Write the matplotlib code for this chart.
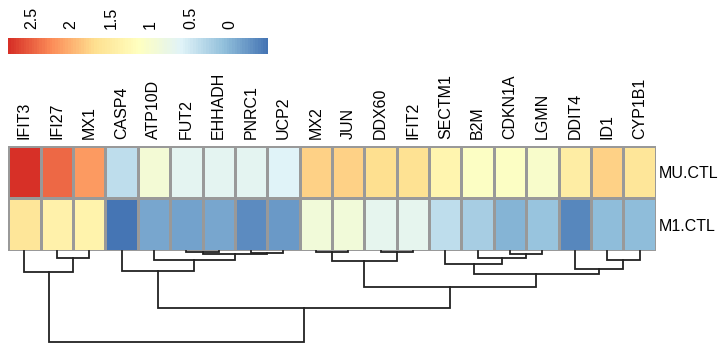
import numpy as np
import matplotlib
matplotlib.use("Agg")
import matplotlib.pyplot as plt
from matplotlib.colors import LinearSegmentedColormap, Normalize
from matplotlib.cm import ScalarMappable

plt.rcParams['font.family'] = ['Liberation Sans', 'DejaVu Sans']

# genes (columns) in dendrogram order, samples (rows)
genes = ["IFIT3", "IFI27", "MX1", "CASP4", "ATP10D", "FUT2", "EHHADH", "PNRC1",
         "UCP2", "MX2", "JUN", "DDX60", "IFIT2", "SECTM1", "B2M", "CDKN1A",
         "LGMN", "DDIT4", "ID1", "CYP1B1"]
samples = ["MU.CTL", "M1.CTL"]

mu_ctl = [2.79, 2.45, 2.15, 0.40, 0.95, 0.68, 0.68, 0.67, 0.62, 1.80,
          1.80, 1.70, 1.65, 1.35, 1.10, 1.12, 1.05, 1.45, 1.80, 1.60]
m1_ctl = [1.60, 1.40, 1.38, -0.48, -0.10, -0.15, -0.10, -0.30, -0.20, 0.90,
          0.90, 0.70, 0.70, 0.40, 0.22, -0.02, 0.12, -0.33, 0.07, 0.07]

# column clustering: (left, right, height); ids >= 20 are earlier merges
merges = [(1, 2, 7.3), (0, 20, 20.7),
          (5, 6, 1.0), (7, 8, 1.5), (22, 23, 3.3), (4, 24, 8.5), (3, 25, 19.5),
          (9, 10, 1.3), (11, 12, 1.3), (27, 28, 9.7),
          (15, 16, 3.3), (14, 30, 6.7), (13, 31, 13.3),
          (18, 19, 8.7), (17, 33, 18.0), (32, 34, 23.3),
          (29, 35, 36.3), (26, 36, 56.7), (21, 37, 90.7)]

cbar_ticks = [2.5, 2, 1.5, 1, 0.5, 0]

data = np.array([mu_ctl, m1_ctl])
vmin, vmax = data.min(), data.max()
cmap = LinearSegmentedColormap.from_list(
    "rdylbu", ["#4575B4", "#91BFDB", "#E0F3F8", "#FFFFBF", "#FEE090", "#FC8D59", "#D73027"], N=100)
norm = Normalize(vmin, vmax)

W, H = 725, 345
fig = plt.figure(figsize=(W / 100, H / 100), dpi=100)

def px_axes(x0, y0, x1, y1):
    return fig.add_axes([x0 / W, 1 - y1 / H, (x1 - x0) / W, (y1 - y0) / H])

hm_left, hm_right, hm_top, hm_bot = 8.3, 655.7, 145.7, 251.0

# heatmap
ax = px_axes(hm_left, hm_top, hm_right, hm_bot)
ax.pcolormesh(data, cmap=cmap, norm=norm, edgecolors="#999999", linewidth=1.0)
ax.set_xlim(0, len(genes))
ax.set_ylim(len(samples), 0)
ax.xaxis.tick_top()
ax.set_xticks(np.arange(len(genes)) + 0.5)
ax.set_xticklabels(genes, rotation=90, fontsize=11.5, va="bottom")
ax.yaxis.tick_right()
ax.set_yticks(np.arange(len(samples)) + 0.5)
ax.set_yticklabels(samples, fontsize=11.5)
ax.tick_params(length=0, pad=5)
ax.tick_params(axis="y", pad=2)
for s in ax.spines.values():
    s.set_visible(False)

# dendrogram under the heatmap
root_h = merges[-1][2]
dax = px_axes(hm_left, hm_bot, hm_right, hm_bot + root_h)
pos = {i: (i + 0.5, 0.0) for i in range(len(genes))}
for k, (a, b, h) in enumerate(merges):
    xa, ha = pos[a]
    xb, hb = pos[b]
    dax.plot([xa, xa, xb, xb], [ha, h, h, hb], color="#222222", lw=1.3,
             solid_joinstyle="miter", clip_on=False)
    pos[len(genes) + k] = ((xa + xb) / 2, h)
dax.set_xlim(0, len(genes))
dax.set_ylim(root_h, 0)
dax.axis("off")

# colour key, high values on the left
cax = px_axes(8.3, 37.7, 268.3, 54.3)
cb = fig.colorbar(ScalarMappable(norm=norm, cmap=cmap), cax=cax, orientation="horizontal")
cax.set_xlim(vmax, vmin)
cb.outline.set_visible(False)
cb.set_ticks(cbar_ticks)
cb.set_ticklabels([str(t) for t in cbar_ticks])
cax.xaxis.set_ticks_position("top")
cax.tick_params(length=0, pad=6, labelsize=11.5, labelrotation=90)
for lab in cax.get_xticklabels():
    lab.set_va("bottom")

fig.savefig("out.png", dpi=100)
